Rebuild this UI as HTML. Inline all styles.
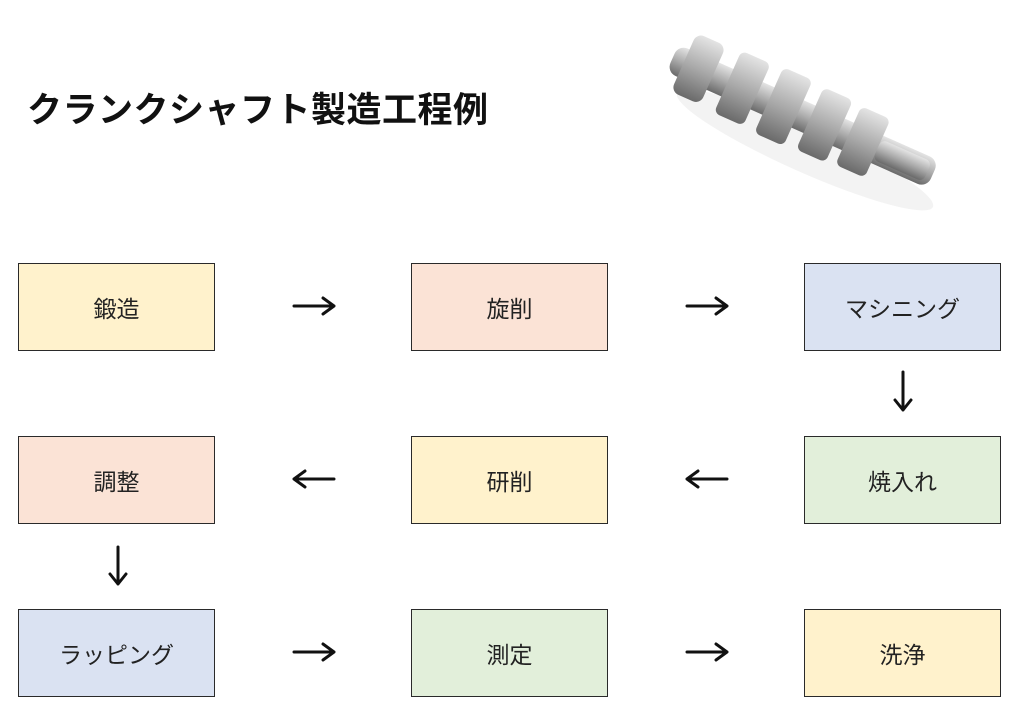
<!DOCTYPE html>
<html><head><meta charset="utf-8"><style>
html,body{margin:0;padding:0;background:#fff;}
body{width:1024px;height:723px;position:relative;overflow:hidden;font-family:"Liberation Sans","Noto Sans CJK JP",sans-serif;}
.t{position:absolute;left:27px;top:86px;font-size:35px;font-weight:bold;color:#111;line-height:50px;letter-spacing:0.5px;}
.b{position:absolute;width:195px;height:86px;border:1.5px solid #2a2a2a;box-sizing:content-box;display:flex;align-items:center;justify-content:center;font-size:23px;color:#222;}
.y{background:#fff2cc}.p{background:#fbe3d6}.bl{background:#dae2f2}.g{background:#e2efda}
svg{position:absolute;left:0;top:0}
</style></head><body>
<div class="t">クランクシャフト製造工程例</div>
<div class="b y" style="left:18px;top:263px">鍛造</div>
<div class="b p" style="left:411px;top:263px">旋削</div>
<div class="b bl" style="left:804px;top:263px">マシニング</div>
<div class="b p" style="left:18px;top:436px">調整</div>
<div class="b y" style="left:411px;top:436px">研削</div>
<div class="b g" style="left:804px;top:436px">焼入れ</div>
<div class="b bl" style="left:18px;top:609px">ラッピング</div>
<div class="b g" style="left:411px;top:609px">測定</div>
<div class="b y" style="left:804px;top:609px">洗浄</div>
<svg width="1024" height="723" viewBox="0 0 1024 723">
<defs>
<linearGradient id="m" x1="0" y1="0" x2="0" y2="1"><stop offset="0" stop-color="#e4e4e4"/><stop offset="0.5" stop-color="#aaa"/><stop offset="1" stop-color="#6a6a6a"/></linearGradient>
</defs>
<g stroke="#111" stroke-width="3" fill="none" stroke-linecap="round" stroke-linejoin="round">
<path d="M294 306H334M323 298L334 306L323 314"/>
<path d="M687 306H727M716 298L727 306L716 314"/>
<path d="M334 479H294M305 471L294 479L305 487"/>
<path d="M727 479H687M698 471L687 479L698 487"/>
<path d="M294 652H334M323 644L334 652L323 660"/>
<path d="M687 652H727M716 644L727 652L716 660"/>
<path d="M903 372V410M895 400L903 410L911 400"/>
<path d="M118 547V584M110 574L118 584L126 574"/>
</g>
<ellipse cx="805" cy="150" rx="140" ry="22" fill="#f3f3f3" transform="rotate(24 805 150)"/>
<g transform="rotate(24 795 115)">
<rect x="660" y="98" width="285" height="30" rx="10" fill="url(#m)"/>
<rect x="672" y="80" width="32" height="64" rx="8" fill="url(#m)"/>
<rect x="720" y="78" width="32" height="68" rx="6" fill="url(#m)"/>
<rect x="765" y="76" width="32" height="72" rx="6" fill="url(#m)"/>
<rect x="810" y="78" width="32" height="68" rx="6" fill="url(#m)"/>
<rect x="852" y="80" width="32" height="64" rx="6" fill="url(#m)"/>
<rect x="884" y="102" width="55" height="22" rx="6" fill="url(#m)"/>
</g>
</svg>
</body></html>
